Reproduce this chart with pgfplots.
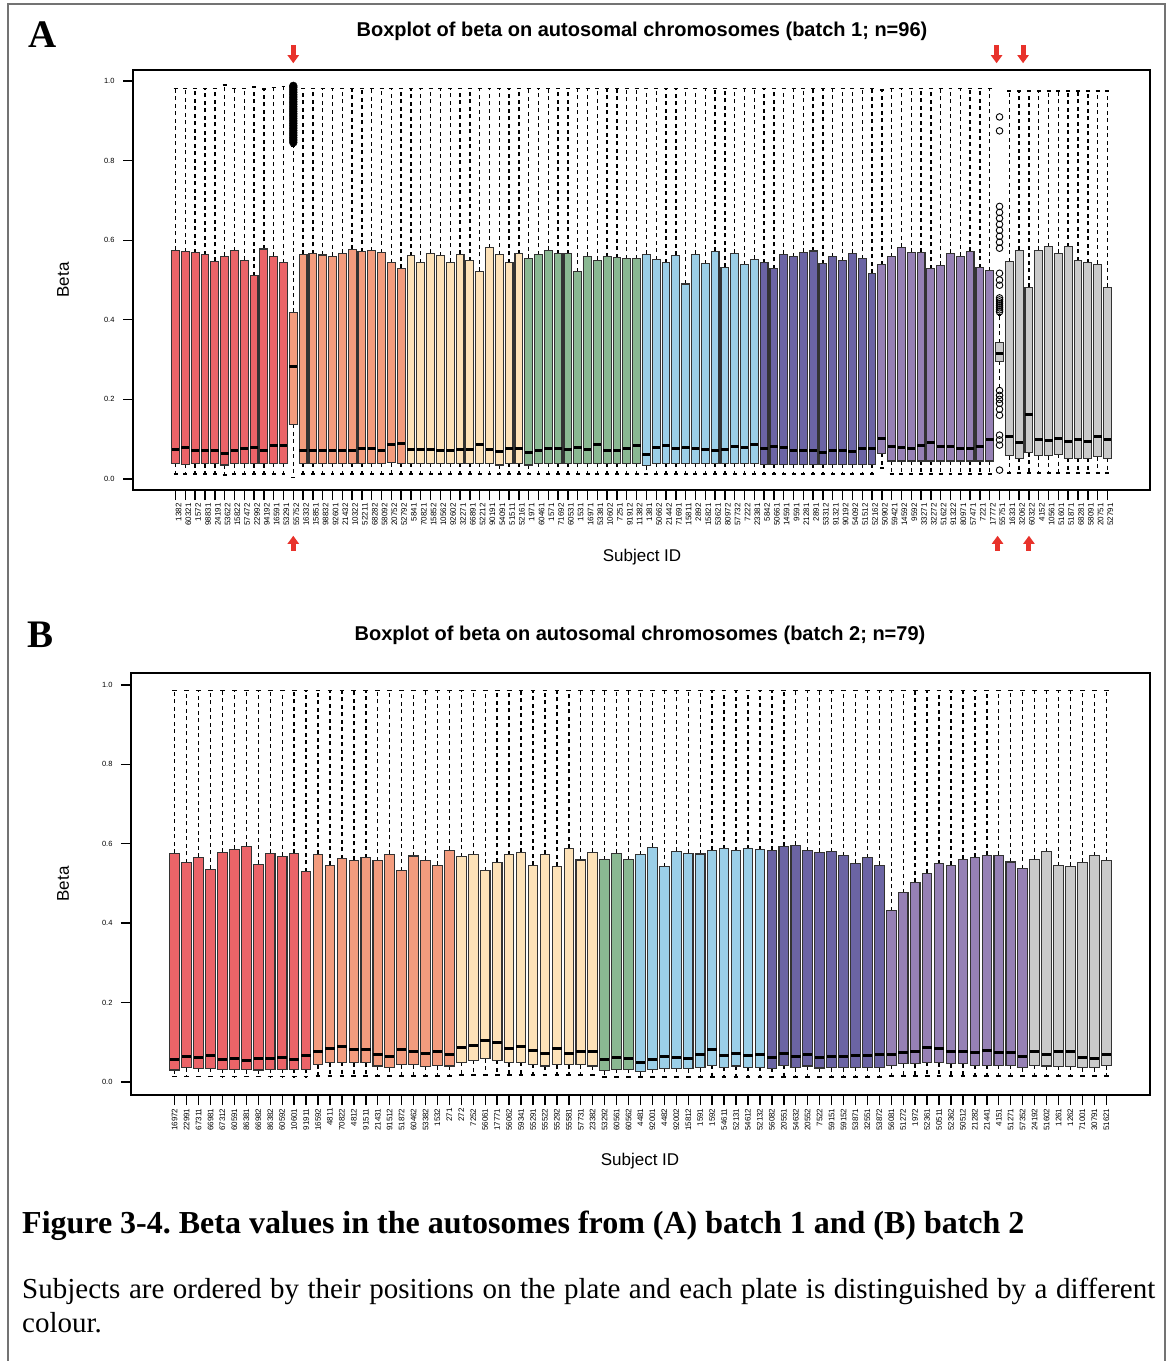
\documentclass[border=0pt]{standalone}
\usepackage{fontspec}
\setmainfont{Liberation Sans}
\newfontfamily\tnr{Liberation Serif}
\usepackage{pgfplots}
\pgfplotsset{compat=1.18}
\usepgfplotslibrary{statistics}
\usetikzlibrary{arrows.meta}
\frenchspacing

\definecolor{cRed}{HTML}{EB6468}
\definecolor{cSal}{HTML}{F39C7E}
\definecolor{cPea}{HTML}{FDE2B8}
\definecolor{cGrn}{HTML}{8AB892}
\definecolor{cLbl}{HTML}{9BCFE8}
\definecolor{cNav}{HTML}{6B64A4}
\definecolor{cPur}{HTML}{9681B5}
\definecolor{cGry}{HTML}{CACACA}
\definecolor{arrowred}{HTML}{E8322B}
\definecolor{boxline}{HTML}{333333}

\newcommand{\bx}[7]{\addplot[fill=#7, draw=boxline, line width=1.1pt,
  boxplot prepared={draw position=#1, lower whisker=#2, lower quartile=#3,
  median=#4, upper quartile=#5, upper whisker=#6}] coordinates {};}

\pgfplotsset{
  myax/.style={
    scale only axis, clip=false,
    boxplot/draw direction=y,
    axis line style={black, line width=1.5pt},
    tick style={black, line width=1.4pt},
    tick align=outside, xtick pos=bottom, ytick pos=left,
    major tick length=10pt,
    ytick={0,0.2,0.4,0.6,0.8,1.0},
    yticklabel style={font=\fontsize{7.5}{8}\selectfont, xshift=-5pt,
      /pgf/number format/assume math mode=true,
      /pgf/number format/fixed, /pgf/number format/fixed zerofill,
      /pgf/number format/precision=1},
    xticklabel style={rotate=90, anchor=east, font=\fontsize{8}{8}\selectfont},
    boxplot/box extend=0.8,
    boxplot/whisker extend=0.4,
    boxplot/every median/.style={line width=3pt, black},
    boxplot/draw/lower whisker/.code={%
      \draw[dash pattern=on 4pt off 3.5pt, line width=1.4pt, black, fill=none]
        (boxplot box cs:\pgfplotsboxplotvalue{lower quartile},0.5) --
        (boxplot box cs:\pgfplotsboxplotvalue{lower whisker},0.5);
      \draw[solid, line width=1.4pt, black, fill=none]
        (boxplot whisker cs:\pgfplotsboxplotvalue{lower whisker},0) --
        (boxplot whisker cs:\pgfplotsboxplotvalue{lower whisker},1);
    },
    boxplot/draw/upper whisker/.code={%
      \draw[dash pattern=on 4pt off 3.5pt, line width=1.4pt, black, fill=none]
        (boxplot box cs:\pgfplotsboxplotvalue{upper quartile},0.5) --
        (boxplot box cs:\pgfplotsboxplotvalue{upper whisker},0.5);
      \draw[solid, line width=1.4pt, black, fill=none]
        (boxplot whisker cs:\pgfplotsboxplotvalue{upper whisker},0) --
        (boxplot whisker cs:\pgfplotsboxplotvalue{upper whisker},1);
    },
  }
}

\begin{document}
\begin{tikzpicture}
\path[use as bounding box] (0pt,0pt) rectangle (1169pt,-1361pt);
\draw[black!55, line width=1.5pt] (8pt,-4pt) rectangle (1165pt,-1370pt);

% ---------------- Panel A ----------------
\node[font=\tnr\bfseries\fontsize{39}{39}\selectfont] at (43pt,-35pt) {A};
\node[font=\bfseries\fontsize{20}{20}\selectfont] at (642pt,-31pt) {Boxplot of beta on autosomal chromosomes (batch 1; n=96)};
\node[font=\fontsize{17}{17}\selectfont] at (642pt,-557pt) {Subject ID};
\node[font=\fontsize{17}{17}\selectfont, rotate=90] at (63pt,-280pt) {Beta};

\begin{axis}[myax, at={(133pt,-490pt)}, anchor=south west,
  width=1017pt, height=420pt,
  xmin=-3.34, xmax=100.34, ymin=-0.028, ymax=1.028,
  xticklabel style={yshift=-3pt},
  xtick={1,...,96},
  xticklabels={1382,60321,1572,98831,24191,53622,15822,57472,22992,94192,16591,53291,
  55752,16332,15851,98832,92601,21432,10322,52211,68282,58092,20752,52792,
  5841,70821,15852,10562,92602,32271,66891,52212,90191,54091,51511,52161,
  1971,60461,1571,71692,60531,1531,16971,53381,10602,7251,91912,11382,
  1381,50662,21442,71691,15811,2892,15821,53621,80972,57732,7222,23381,
  5842,50661,14591,9591,21281,2891,53312,91321,90192,54092,51512,52162,
  50902,59421,14592,9592,33271,32272,51622,91322,80971,57471,7221,17772,
  55751,16331,32062,60322,4152,10561,51601,51871,68281,58091,20751,52791},
]
% red
\bx{1}{0.012}{0.039}{0.073}{0.575}{0.982}{cRed}
\bx{2}{0.012}{0.037}{0.080}{0.571}{0.982}{cRed}
\bx{3}{0.012}{0.038}{0.072}{0.569}{0.982}{cRed}
\bx{4}{0.012}{0.038}{0.072}{0.564}{0.982}{cRed}
\bx{5}{0.012}{0.038}{0.072}{0.547}{0.982}{cRed}
\bx{6}{0.010}{0.035}{0.064}{0.560}{0.990}{cRed}
\bx{7}{0.012}{0.038}{0.071}{0.574}{0.982}{cRed}
\bx{8}{0.012}{0.038}{0.076}{0.550}{0.982}{cRed}
\bx{9}{0.012}{0.038}{0.080}{0.511}{0.985}{cRed}
\bx{10}{0.012}{0.038}{0.072}{0.578}{0.980}{cRed}
\bx{11}{0.012}{0.039}{0.084}{0.560}{0.984}{cRed}
\bx{12}{0.012}{0.039}{0.084}{0.543}{0.986}{cRed}
% salmon
\bx{13}{0.004}{0.137}{0.283}{0.419}{0.835}{cSal}
\bx{14}{0.012}{0.039}{0.072}{0.565}{0.982}{cSal}
\bx{15}{0.012}{0.039}{0.072}{0.566}{0.982}{cSal}
\bx{16}{0.012}{0.039}{0.072}{0.563}{0.982}{cSal}
\bx{17}{0.012}{0.039}{0.072}{0.560}{0.982}{cSal}
\bx{18}{0.012}{0.039}{0.072}{0.567}{0.982}{cSal}
\bx{19}{0.012}{0.039}{0.072}{0.577}{0.982}{cSal}
\bx{20}{0.012}{0.039}{0.076}{0.571}{0.982}{cSal}
\bx{21}{0.012}{0.039}{0.076}{0.574}{0.982}{cSal}
\bx{22}{0.012}{0.039}{0.072}{0.569}{0.982}{cSal}
\bx{23}{0.012}{0.041}{0.087}{0.544}{0.982}{cSal}
\bx{24}{0.012}{0.039}{0.089}{0.529}{0.982}{cSal}
% peach
\bx{25}{0.012}{0.039}{0.073}{0.561}{0.982}{cPea}
\bx{26}{0.012}{0.039}{0.074}{0.543}{0.982}{cPea}
\bx{27}{0.012}{0.039}{0.073}{0.567}{0.982}{cPea}
\bx{28}{0.012}{0.039}{0.072}{0.561}{0.982}{cPea}
\bx{29}{0.012}{0.039}{0.072}{0.545}{0.982}{cPea}
\bx{30}{0.012}{0.039}{0.074}{0.565}{0.982}{cPea}
\bx{31}{0.012}{0.039}{0.074}{0.548}{0.982}{cPea}
\bx{32}{0.012}{0.039}{0.086}{0.522}{0.982}{cPea}
\bx{33}{0.012}{0.039}{0.074}{0.581}{0.982}{cPea}
\bx{34}{0.012}{0.035}{0.069}{0.564}{0.982}{cPea}
\bx{35}{0.012}{0.039}{0.077}{0.543}{0.982}{cPea}
\bx{36}{0.012}{0.039}{0.077}{0.566}{0.982}{cPea}
% green
\bx{37}{0.012}{0.035}{0.067}{0.555}{0.982}{cGrn}
\bx{38}{0.012}{0.039}{0.072}{0.564}{0.982}{cGrn}
\bx{39}{0.012}{0.039}{0.076}{0.575}{0.982}{cGrn}
\bx{40}{0.012}{0.039}{0.076}{0.566}{0.982}{cGrn}
\bx{41}{0.012}{0.039}{0.074}{0.566}{0.982}{cGrn}
\bx{42}{0.012}{0.039}{0.080}{0.521}{0.982}{cGrn}
\bx{43}{0.012}{0.039}{0.074}{0.560}{0.982}{cGrn}
\bx{44}{0.012}{0.039}{0.086}{0.550}{0.982}{cGrn}
\bx{45}{0.012}{0.039}{0.072}{0.558}{0.982}{cGrn}
\bx{46}{0.012}{0.039}{0.072}{0.556}{0.982}{cGrn}
\bx{47}{0.012}{0.039}{0.077}{0.554}{0.982}{cGrn}
\bx{48}{0.012}{0.039}{0.083}{0.554}{0.982}{cGrn}
% light blue
\bx{49}{0.012}{0.033}{0.061}{0.565}{0.982}{cLbl}
\bx{50}{0.012}{0.039}{0.080}{0.551}{0.982}{cLbl}
\bx{51}{0.012}{0.039}{0.084}{0.544}{0.982}{cLbl}
\bx{52}{0.012}{0.039}{0.076}{0.562}{0.982}{cLbl}
\bx{53}{0.012}{0.039}{0.080}{0.490}{0.982}{cLbl}
\bx{54}{0.012}{0.039}{0.076}{0.565}{0.982}{cLbl}
\bx{55}{0.012}{0.039}{0.074}{0.541}{0.982}{cLbl}
\bx{56}{0.012}{0.039}{0.072}{0.572}{0.982}{cLbl}
\bx{57}{0.012}{0.039}{0.073}{0.532}{0.982}{cLbl}
\bx{58}{0.012}{0.039}{0.081}{0.567}{0.982}{cLbl}
\bx{59}{0.012}{0.039}{0.080}{0.538}{0.982}{cLbl}
\bx{60}{0.012}{0.039}{0.086}{0.552}{0.982}{cLbl}
% navy
\bx{61}{0.012}{0.037}{0.076}{0.544}{0.982}{cNav}
\bx{62}{0.012}{0.037}{0.082}{0.528}{0.982}{cNav}
\bx{63}{0.012}{0.037}{0.078}{0.565}{0.982}{cNav}
\bx{64}{0.012}{0.037}{0.072}{0.559}{0.982}{cNav}
\bx{65}{0.012}{0.037}{0.072}{0.570}{0.982}{cNav}
\bx{66}{0.012}{0.037}{0.071}{0.573}{0.982}{cNav}
\bx{67}{0.012}{0.037}{0.067}{0.541}{0.982}{cNav}
\bx{68}{0.012}{0.037}{0.072}{0.559}{0.982}{cNav}
\bx{69}{0.012}{0.037}{0.072}{0.549}{0.982}{cNav}
\bx{70}{0.012}{0.037}{0.070}{0.567}{0.982}{cNav}
\bx{71}{0.012}{0.037}{0.076}{0.554}{0.982}{cNav}
\bx{72}{0.012}{0.037}{0.076}{0.517}{0.982}{cNav}
% purple
\bx{73}{0.027}{0.064}{0.102}{0.538}{0.978}{cPur}
\bx{74}{0.012}{0.045}{0.082}{0.559}{0.982}{cPur}
\bx{75}{0.012}{0.045}{0.080}{0.582}{0.982}{cPur}
\bx{76}{0.012}{0.045}{0.077}{0.570}{0.982}{cPur}
\bx{77}{0.012}{0.045}{0.084}{0.570}{0.982}{cPur}
\bx{78}{0.012}{0.045}{0.091}{0.528}{0.982}{cPur}
\bx{79}{0.012}{0.045}{0.082}{0.537}{0.982}{cPur}
\bx{80}{0.012}{0.045}{0.081}{0.567}{0.982}{cPur}
\bx{81}{0.012}{0.045}{0.076}{0.560}{0.982}{cPur}
\bx{82}{0.012}{0.045}{0.077}{0.572}{0.982}{cPur}
\bx{83}{0.012}{0.045}{0.082}{0.531}{0.982}{cPur}
\bx{84}{0.012}{0.045}{0.100}{0.523}{0.982}{cPur}
% gray
\bx{85}{0.229}{0.296}{0.315}{0.342}{0.412}{cGry}
\bx{86}{0.015}{0.058}{0.106}{0.546}{0.975}{cGry}
\bx{87}{0.015}{0.052}{0.091}{0.575}{0.975}{cGry}
\bx{88}{0.015}{0.066}{0.161}{0.482}{0.975}{cGry}
\bx{89}{0.015}{0.058}{0.100}{0.575}{0.975}{cGry}
\bx{90}{0.015}{0.058}{0.096}{0.584}{0.975}{cGry}
\bx{91}{0.015}{0.062}{0.102}{0.567}{0.975}{cGry}
\bx{92}{0.015}{0.052}{0.093}{0.584}{0.975}{cGry}
\bx{93}{0.015}{0.052}{0.100}{0.549}{0.975}{cGry}
\bx{94}{0.015}{0.052}{0.094}{0.543}{0.975}{cGry}
\bx{95}{0.015}{0.056}{0.107}{0.540}{0.975}{cGry}
\bx{96}{0.015}{0.052}{0.100}{0.482}{0.975}{cGry}
% outliers
\addplot[only marks, mark=*, mark size=4pt, mark options={black, fill=black, solid}]
  coordinates {(13,0.846)(13,0.852)(13,0.858)(13,0.864)(13,0.870)(13,0.876)(13,0.882)
  (13,0.888)(13,0.894)(13,0.900)(13,0.906)(13,0.912)(13,0.918)(13,0.924)(13,0.930)
  (13,0.936)(13,0.942)(13,0.948)(13,0.954)(13,0.960)(13,0.966)(13,0.972)(13,0.978)
  (13,0.984)(13,0.988)};
\addplot[only marks, mark=o, mark size=3.3pt, mark options={black, line width=0.9pt, solid}]
  coordinates {(85,0.910)(85,0.875)(85,0.685)(85,0.670)(85,0.655)(85,0.640)(85,0.625)
  (85,0.610)(85,0.595)(85,0.580)(85,0.517)(85,0.500)(85,0.487)(85,0.455)(85,0.450)
  (85,0.445)(85,0.440)(85,0.435)(85,0.430)(85,0.425)(85,0.420)(85,0.222)(85,0.210)
  (85,0.200)(85,0.190)(85,0.175)(85,0.160)(85,0.110)(85,0.098)(85,0.085)(85,0.022)};
% arrows
\draw[-{Triangle[width=11pt,length=8pt]}, line width=5pt, arrowred] (axis cs:13,1.090) -- (axis cs:13,1.045);
\draw[-{Triangle[width=11pt,length=8pt]}, line width=5pt, arrowred] (axis cs:84.7,1.090) -- (axis cs:84.7,1.045);
\draw[-{Triangle[width=11pt,length=8pt]}, line width=5pt, arrowred] (axis cs:87.4,1.090) -- (axis cs:87.4,1.045);
\draw[-{Triangle[width=11pt,length=8pt]}, line width=5pt, arrowred] (axis cs:13,-0.181) -- (axis cs:13,-0.143);
\draw[-{Triangle[width=11pt,length=8pt]}, line width=5pt, arrowred] (axis cs:84.8,-0.181) -- (axis cs:84.8,-0.143);
\draw[-{Triangle[width=11pt,length=8pt]}, line width=5pt, arrowred] (axis cs:88,-0.181) -- (axis cs:88,-0.143);
\end{axis}

% ---------------- Panel B ----------------
\node[font=\tnr\bfseries\fontsize{39}{39}\selectfont] at (41pt,-635pt) {B};
\node[font=\bfseries\fontsize{20}{20}\selectfont] at (640pt,-635pt) {Boxplot of beta on autosomal chromosomes (batch 2; n=79)};
\node[font=\fontsize{17}{17}\selectfont] at (640pt,-1161pt) {Subject ID};
\node[font=\fontsize{17}{17}\selectfont, rotate=90] at (63pt,-884pt) {Beta};

\begin{axis}[myax, at={(131pt,-1095pt)}, anchor=south west,
  width=1019pt, height=422pt,
  xmin=-2.66, xmax=82.66, ymin=-0.033, ymax=1.030,
  xtick={1,...,79},
  xticklabels={16972,22991,67311,66981,67312,60591,86381,66982,86382,60592,10601,91911,
  16592,4811,70822,4812,91511,21431,91512,51872,60462,53382,1532,271,
  272,7252,56061,17771,56062,59341,55291,55522,55292,55581,57731,23382,
  53292,60561,60562,
  4481,92001,4482,92002,15812,1591,1592,54611,52131,54612,52132,
  56082,20551,54632,20552,7522,59151,59152,53871,32551,53872,
  56081,51272,1972,52361,50511,52362,50512,21282,21441,4151,51271,57352,
  24192,51602,1261,1262,71001,30791,51621},
]
% red
\bx{1}{0.013}{0.030}{0.057}{0.576}{0.986}{cRed}
\bx{2}{0.013}{0.036}{0.065}{0.552}{0.986}{cRed}
\bx{3}{0.013}{0.034}{0.062}{0.566}{0.986}{cRed}
\bx{4}{0.013}{0.034}{0.066}{0.536}{0.986}{cRed}
\bx{5}{0.013}{0.032}{0.056}{0.579}{0.986}{cRed}
\bx{6}{0.013}{0.032}{0.059}{0.586}{0.986}{cRed}
\bx{7}{0.013}{0.031}{0.055}{0.593}{0.986}{cRed}
\bx{8}{0.013}{0.030}{0.058}{0.548}{0.986}{cRed}
\bx{9}{0.013}{0.032}{0.058}{0.576}{0.986}{cRed}
\bx{10}{0.013}{0.032}{0.062}{0.568}{0.986}{cRed}
\bx{11}{0.013}{0.032}{0.057}{0.576}{0.986}{cRed}
\bx{12}{0.013}{0.032}{0.066}{0.530}{0.986}{cRed}
% salmon
\bx{13}{0.015}{0.043}{0.076}{0.573}{0.986}{cSal}
\bx{14}{0.015}{0.048}{0.085}{0.546}{0.986}{cSal}
\bx{15}{0.015}{0.050}{0.090}{0.562}{0.986}{cSal}
\bx{16}{0.015}{0.048}{0.082}{0.558}{0.986}{cSal}
\bx{17}{0.015}{0.048}{0.082}{0.565}{0.986}{cSal}
\bx{18}{0.015}{0.040}{0.070}{0.557}{0.986}{cSal}
\bx{19}{0.015}{0.036}{0.065}{0.573}{0.986}{cSal}
\bx{20}{0.015}{0.043}{0.082}{0.532}{0.986}{cSal}
\bx{21}{0.015}{0.043}{0.076}{0.569}{0.986}{cSal}
\bx{22}{0.015}{0.039}{0.071}{0.558}{0.986}{cSal}
\bx{23}{0.015}{0.041}{0.076}{0.546}{0.986}{cSal}
\bx{24}{0.015}{0.040}{0.070}{0.584}{0.986}{cSal}
% peach
\bx{25}{0.017}{0.050}{0.087}{0.567}{0.986}{cPea}
\bx{26}{0.017}{0.054}{0.092}{0.572}{0.986}{cPea}
\bx{27}{0.017}{0.058}{0.104}{0.532}{0.986}{cPea}
\bx{28}{0.017}{0.055}{0.100}{0.553}{0.986}{cPea}
\bx{29}{0.017}{0.048}{0.084}{0.572}{0.986}{cPea}
\bx{30}{0.017}{0.049}{0.089}{0.579}{0.986}{cPea}
\bx{31}{0.017}{0.044}{0.078}{0.546}{0.986}{cPea}
\bx{32}{0.017}{0.040}{0.071}{0.573}{0.986}{cPea}
\bx{33}{0.017}{0.043}{0.084}{0.543}{0.986}{cPea}
\bx{34}{0.017}{0.043}{0.071}{0.588}{0.986}{cPea}
\bx{35}{0.017}{0.043}{0.076}{0.559}{0.986}{cPea}
\bx{36}{0.017}{0.040}{0.077}{0.578}{0.986}{cPea}
% green
\bx{37}{0.012}{0.028}{0.056}{0.560}{0.986}{cGrn}
\bx{38}{0.012}{0.032}{0.062}{0.576}{0.986}{cGrn}
\bx{39}{0.012}{0.032}{0.059}{0.560}{0.986}{cGrn}
% light blue
\bx{40}{0.012}{0.026}{0.050}{0.572}{0.986}{cLbl}
\bx{41}{0.012}{0.032}{0.056}{0.591}{0.986}{cLbl}
\bx{42}{0.012}{0.034}{0.064}{0.542}{0.986}{cLbl}
\bx{43}{0.012}{0.034}{0.062}{0.581}{0.986}{cLbl}
\bx{44}{0.012}{0.033}{0.059}{0.576}{0.986}{cLbl}
\bx{45}{0.012}{0.036}{0.068}{0.574}{0.986}{cLbl}
\bx{46}{0.012}{0.042}{0.081}{0.584}{0.986}{cLbl}
\bx{47}{0.012}{0.037}{0.066}{0.587}{0.986}{cLbl}
\bx{48}{0.012}{0.040}{0.071}{0.582}{0.986}{cLbl}
\bx{49}{0.012}{0.037}{0.066}{0.587}{0.986}{cLbl}
\bx{50}{0.012}{0.037}{0.068}{0.585}{0.986}{cLbl}
% navy
\bx{51}{0.012}{0.034}{0.062}{0.584}{0.986}{cNav}
\bx{52}{0.012}{0.042}{0.072}{0.594}{0.986}{cNav}
\bx{53}{0.012}{0.036}{0.064}{0.596}{0.986}{cNav}
\bx{54}{0.012}{0.040}{0.068}{0.582}{0.986}{cNav}
\bx{55}{0.012}{0.035}{0.062}{0.578}{0.986}{cNav}
\bx{56}{0.012}{0.036}{0.065}{0.580}{0.986}{cNav}
\bx{57}{0.012}{0.036}{0.064}{0.570}{0.986}{cNav}
\bx{58}{0.012}{0.037}{0.067}{0.551}{0.986}{cNav}
\bx{59}{0.012}{0.037}{0.067}{0.565}{0.986}{cNav}
\bx{60}{0.012}{0.036}{0.069}{0.546}{0.986}{cNav}
% purple
\bx{61}{0.015}{0.042}{0.068}{0.431}{0.986}{cPur}
\bx{62}{0.015}{0.046}{0.073}{0.476}{0.986}{cPur}
\bx{63}{0.015}{0.046}{0.077}{0.503}{0.986}{cPur}
\bx{64}{0.015}{0.050}{0.086}{0.526}{0.986}{cPur}
\bx{65}{0.015}{0.048}{0.083}{0.550}{0.986}{cPur}
\bx{66}{0.015}{0.046}{0.076}{0.546}{0.986}{cPur}
\bx{67}{0.015}{0.046}{0.076}{0.561}{0.986}{cPur}
\bx{68}{0.015}{0.042}{0.073}{0.566}{0.986}{cPur}
\bx{69}{0.015}{0.042}{0.080}{0.571}{0.986}{cPur}
\bx{70}{0.015}{0.042}{0.073}{0.571}{0.986}{cPur}
\bx{71}{0.015}{0.042}{0.075}{0.554}{0.986}{cPur}
\bx{72}{0.015}{0.036}{0.065}{0.537}{0.986}{cPur}
% gray
\bx{73}{0.015}{0.042}{0.076}{0.561}{0.986}{cGry}
\bx{74}{0.015}{0.040}{0.070}{0.580}{0.986}{cGry}
\bx{75}{0.015}{0.039}{0.076}{0.545}{0.986}{cGry}
\bx{76}{0.015}{0.039}{0.077}{0.543}{0.986}{cGry}
\bx{77}{0.015}{0.036}{0.062}{0.553}{0.986}{cGry}
\bx{78}{0.015}{0.036}{0.059}{0.570}{0.986}{cGry}
\bx{79}{0.015}{0.041}{0.070}{0.557}{0.986}{cGry}
\end{axis}

% ---------------- Caption ----------------
\node[anchor=west, font=\tnr\bfseries\fontsize{32}{32}\selectfont, inner sep=0pt] at (22pt,-1226pt) {Figure 3-4. Beta values in the autosomes from (A) batch 1 and (B) batch 2};
\node[anchor=north west, text width=1133pt, align=justify, inner sep=0pt,
  font=\tnr\fontsize{29}{34}\selectfont] at (22pt,-1278pt) {Subjects are ordered by their positions on the plate and each plate is distinguished by a different\linebreak colour.};
\end{tikzpicture}
\end{document}
